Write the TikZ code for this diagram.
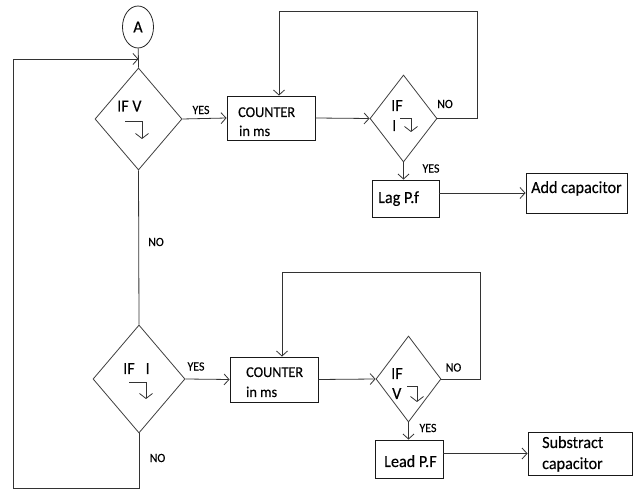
\documentclass[tikz,border=0pt]{standalone}
\usepackage{fontspec}
\setmainfont{Carlito}[FakeStretch=0.95,FakeBold=0.25]
\usetikzlibrary{arrows.meta,shapes.geometric}
\begin{document}
\begin{tikzpicture}[x=1pt,y=-1pt,
  line/.style={draw=black!80, line width=0.8pt},
  flow/.style={line, -{Straight Barb[length=5pt,width=11pt]}},
  fall/.style={line, -{Straight Barb[length=5pt,width=13pt]}},
  box/.style={draw=black!90, line width=0.9pt, rectangle, inner sep=0pt},
  dec/.style={draw=black!75, line width=0.8pt, diamond, inner sep=0pt},
  txt/.style={inner sep=0pt, anchor=base west, font=\fontsize{17}{20}\selectfont},
  ctxt/.style={inner sep=0pt, anchor=base west, font=\fontsize{15}{18}\selectfont},
  lbl/.style={inner sep=0pt, font=\fontsize{12.5}{15}\selectfont},
]
\fill[white] (0,0) rectangle (633,489);
\useasboundingbox (0,0) rectangle (633,489);

% start connector
\node[draw=black!85, line width=0.8pt, ellipse, minimum width=31pt, minimum height=42pt, inner sep=0pt,
      font=\fontsize{17}{20}\selectfont] (A) at (138,27) {A};

% decisions
\node[dec, minimum width=87pt, minimum height=102pt] (d1) at (138.5,119) {};
\node[dec, minimum width=67pt, minimum height=87pt] (d2) at (403.5,118.5) {};
\node[dec, minimum width=92pt, minimum height=108pt] (d3) at (139,379) {};
\node[dec, minimum width=65pt, minimum height=86pt] (d4) at (408.5,379) {};

% process boxes
\node[box, minimum width=88pt, minimum height=44pt] (c1) at (271,118) {};
\node[box, minimum width=67pt, minimum height=37pt] (lag) at (405.5,198.5) {};
\node[box, minimum width=101pt, minimum height=40pt] (add) at (576.5,193) {};
\node[box, minimum width=88pt, minimum height=45pt] (c2) at (274,379.5) {};
\node[box, minimum width=68pt, minimum height=38pt] (lead) at (409,459) {};
\node[box, minimum width=104pt, minimum height=43pt] (sub) at (580,453.5) {};

% texts
\node[ctxt] (c1a) at (238,117) {COUNTER};
\node[ctxt] (c1b) at (239,136) {in ms};
\node[ctxt] (c2a) at (246,377) {COUNTER};
\node[ctxt] (c2b) at (246,397) {in ms};
\node[txt] (lagt) at (378,203) {Lag P.f};
\node[txt] (addt) at (531,193) {Add capacitor};
\node[txt] (leadt) at (384,467) {Lead P.F};
\node[txt] (subt1) at (542,448) {Substract};
\node[txt] (subt2) at (542,469) {capacitor};

\node[txt] (d1t) at (117,111.5) {IF V};
\node[txt] (d2t1) at (391,111) {IF};
\node[txt] (d2t2) at (392,131) {I};
\node[txt] (d3t) at (123,374) {IF\hspace{11pt}I};
\node[txt] (d4t1) at (391,379) {IF};
\node[txt] (d4t2) at (392,399) {V};

% falling-edge marks
\draw[fall] (125,121) -| (142,139);
\draw[fall] (400,118) -| (411,132);
\draw[fall] (129,382) -| (146,399);
\draw[fall] (407,386) -| (417,402);

% branch labels
\node[lbl] (y1) at (201,110) {YES};
\node[lbl] (n1) at (156,242) {NO};
\node[lbl] (n2) at (445,104) {NO};
\node[lbl] (y2) at (431,168.5) {YES};
\node[lbl] (y3) at (196,366.5) {YES};
\node[lbl] (n3) at (157.5,458) {NO};
\node[lbl] (n4) at (453.5,367.5) {NO};
\node[lbl] (y4) at (428,428) {YES};

% routing points
\coordinate (j1) at (138.5,59);
\coordinate (lb) at (13,488);
\coordinate (lt) at (13,59);
\coordinate (r1) at (477,118.5);
\coordinate (t1) at (477,11);
\coordinate (k1) at (279,11);
\coordinate (r2) at (480,379);
\coordinate (t2) at (480,272);
\coordinate (k2) at (282,272);

% connectors
\draw[line] (A) -- (d1.north);
\draw[line] (d1.south) -- (d3.north);
\draw[flow] (d3.south) |- (lb) -- (lt) -- (j1);
\draw[flow] (d1.east) -- (c1.west);
\draw[flow] (c1.east) -- (d2.west);
\draw[flow] (d2.east) -- (r1) -- (t1) -- (k1) -- (k1 |- c1.north);
\draw[flow] (d2.south) -- (d2.south |- lag.north);
\draw[flow] (add.west -| lag.east) -- (add.west);
\draw[flow] (d3.east) -- (c2.west);
\draw[flow] (c2.east) -- (d4.west);
\draw[flow] (d4.east) -- (r2) -- (t2) -- (k2) -- (k2 |- c2.north);
\draw[flow] (d4.south) -- (d4.south |- lead.north);
\draw[flow] (sub.west -| lead.east) -- (sub.west);
\end{tikzpicture}
\end{document}
